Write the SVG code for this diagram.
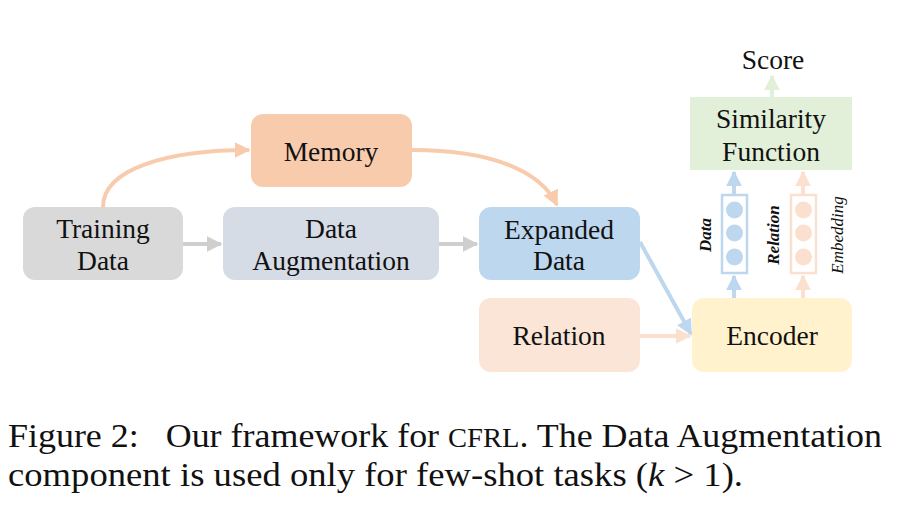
<svg xmlns="http://www.w3.org/2000/svg" width="915" height="528" viewBox="0 0 915 528">
<defs>
<style>
.t{font-family:"Liberation Serif","Times New Roman",Times,serif;font-size:27.5px;fill:#111;text-anchor:middle}
.cap{font-family:"Liberation Serif","Times New Roman",Times,serif;font-size:34px;fill:#111;white-space:pre}
.em{font-family:"Liberation Serif","Times New Roman",Times,serif;font-size:17px;font-style:italic;text-anchor:middle;fill:#111}
.ln{fill:none;stroke-width:4}
</style>
<marker id="aOr" viewBox="0 0 10 10" refX="9" refY="5" markerWidth="4" markerHeight="4" orient="auto"><path d="M0,0L10,5L0,10z" fill="#f8cbad"/></marker>
<marker id="aGr" viewBox="0 0 10 10" refX="9" refY="5" markerWidth="4" markerHeight="4" orient="auto"><path d="M0,0L10,5L0,10z" fill="#d0cece"/></marker>
<marker id="aBl" viewBox="0 0 10 10" refX="9" refY="5" markerWidth="4" markerHeight="4" orient="auto"><path d="M0,0L10,5L0,10z" fill="#bdd7ee"/></marker>
<marker id="aPe" viewBox="0 0 10 10" refX="9" refY="5" markerWidth="4" markerHeight="4" orient="auto"><path d="M0,0L10,5L0,10z" fill="#fbe0cf"/></marker>
<marker id="aGn" viewBox="0 0 10 10" refX="9" refY="5" markerWidth="4" markerHeight="4" orient="auto"><path d="M0,0L10,5L0,10z" fill="#e2f0d9"/></marker>
</defs>
<rect width="915" height="528" fill="#fff"/>
<g id="connectors">
<path class="ln" d="M103,207 C103,168 170,150 249,150" stroke="#f8cbad" marker-end="url(#aOr)"/>
<path class="ln" d="M412,150 C490,150 540,170 557,205" stroke="#f8cbad" marker-end="url(#aOr)"/>
<path class="ln" d="M183,244 L221,244" stroke="#d0cece" marker-end="url(#aGr)"/>
<path class="ln" d="M439,244 L477,244" stroke="#d0cece" marker-end="url(#aGr)"/>
<path class="ln" d="M640,242 L691,334" stroke="#bdd7ee" marker-end="url(#aBl)"/>
<path class="ln" d="M640,336 L690,336" stroke="#fbe0cf" marker-end="url(#aPe)"/>
<path class="ln" d="M734,298 L734,276" stroke="#bdd7ee" marker-end="url(#aBl)"/>
<path class="ln" d="M734,194 L734,172" stroke="#bdd7ee" marker-end="url(#aBl)"/>
<path class="ln" d="M803,298 L803,276" stroke="#fbe0cf" marker-end="url(#aPe)"/>
<path class="ln" d="M803,194 L803,172" stroke="#fbe0cf" marker-end="url(#aPe)"/>
<path class="ln" d="M772,97 L772,76" stroke="#e2f0d9" marker-end="url(#aGn)"/>
</g>
<g id="training">
<rect x="23" y="207" width="160" height="73" rx="12" fill="#d9d9d9"/>
<text class="t" x="103" y="238">Training</text>
<text class="t" x="103" y="270">Data</text>
</g>
<g id="augmentation">
<rect x="223" y="207" width="216" height="73" rx="12" fill="#d6dce5"/>
<text class="t" x="331" y="238">Data</text>
<text class="t" x="331" y="270">Augmentation</text>
</g>
<g id="memory">
<rect x="251" y="114" width="161" height="73" rx="12" fill="#f8cbad"/>
<text class="t" x="331" y="161">Memory</text>
</g>
<g id="expanded">
<rect x="479" y="207" width="161" height="73" rx="12" fill="#bdd7ee"/>
<text class="t" x="559" y="239">Expanded</text>
<text class="t" x="559" y="270">Data</text>
</g>
<g id="relation">
<rect x="479" y="298" width="161" height="74" rx="12" fill="#fbe5d6"/>
<text class="t" x="559" y="345">Relation</text>
</g>
<g id="encoder">
<rect x="692" y="298" width="160" height="74" rx="12" fill="#fff2cc"/>
<text class="t" x="772" y="345">Encoder</text>
</g>
<g id="similarity">
<rect x="690" y="97" width="162" height="73" fill="#e2f0d9"/>
<text class="t" x="771" y="128">Similarity</text>
<text class="t" x="771" y="161">Function</text>
</g>
<g id="score">
<text class="t" x="773" y="69">Score</text>
</g>
<g id="data-embedding">
<rect x="722" y="195" width="25" height="78" fill="#fff" stroke="#bdd7ee" stroke-width="2.5"/>
<circle cx="734.5" cy="210" r="8.5" fill="#bdd7ee"/>
<circle cx="734.5" cy="233" r="8.5" fill="#bdd7ee"/>
<circle cx="734.5" cy="257" r="8.5" fill="#bdd7ee"/>
<text class="em" font-weight="bold" transform="translate(711,235) rotate(-90)">Data</text>
</g>
<g id="relation-embedding">
<rect x="791" y="195" width="25" height="78" fill="#fff" stroke="#fbe0cf" stroke-width="2.5"/>
<circle cx="803.5" cy="210" r="8.5" fill="#fbe0cf"/>
<circle cx="803.5" cy="233" r="8.5" fill="#fbe0cf"/>
<circle cx="803.5" cy="257" r="8.5" fill="#fbe0cf"/>
<text class="em" font-weight="bold" transform="translate(779,235) rotate(-90)">Relation</text>
<text class="em" fill="#333" transform="translate(843,235) rotate(-90)">Embedding</text>
</g>
<g id="caption">
<text class="cap" x="8" y="447" textLength="874" lengthAdjust="spacingAndGlyphs">Figure 2:   Our framework for <tspan font-size="27">CFRL</tspan>. The Data Augmentation</text>
<text class="cap" x="8" y="486" textLength="735" lengthAdjust="spacingAndGlyphs">component is used only for few-shot tasks (<tspan font-style="italic">k</tspan> &gt; 1).</text>
</g>
</svg>
